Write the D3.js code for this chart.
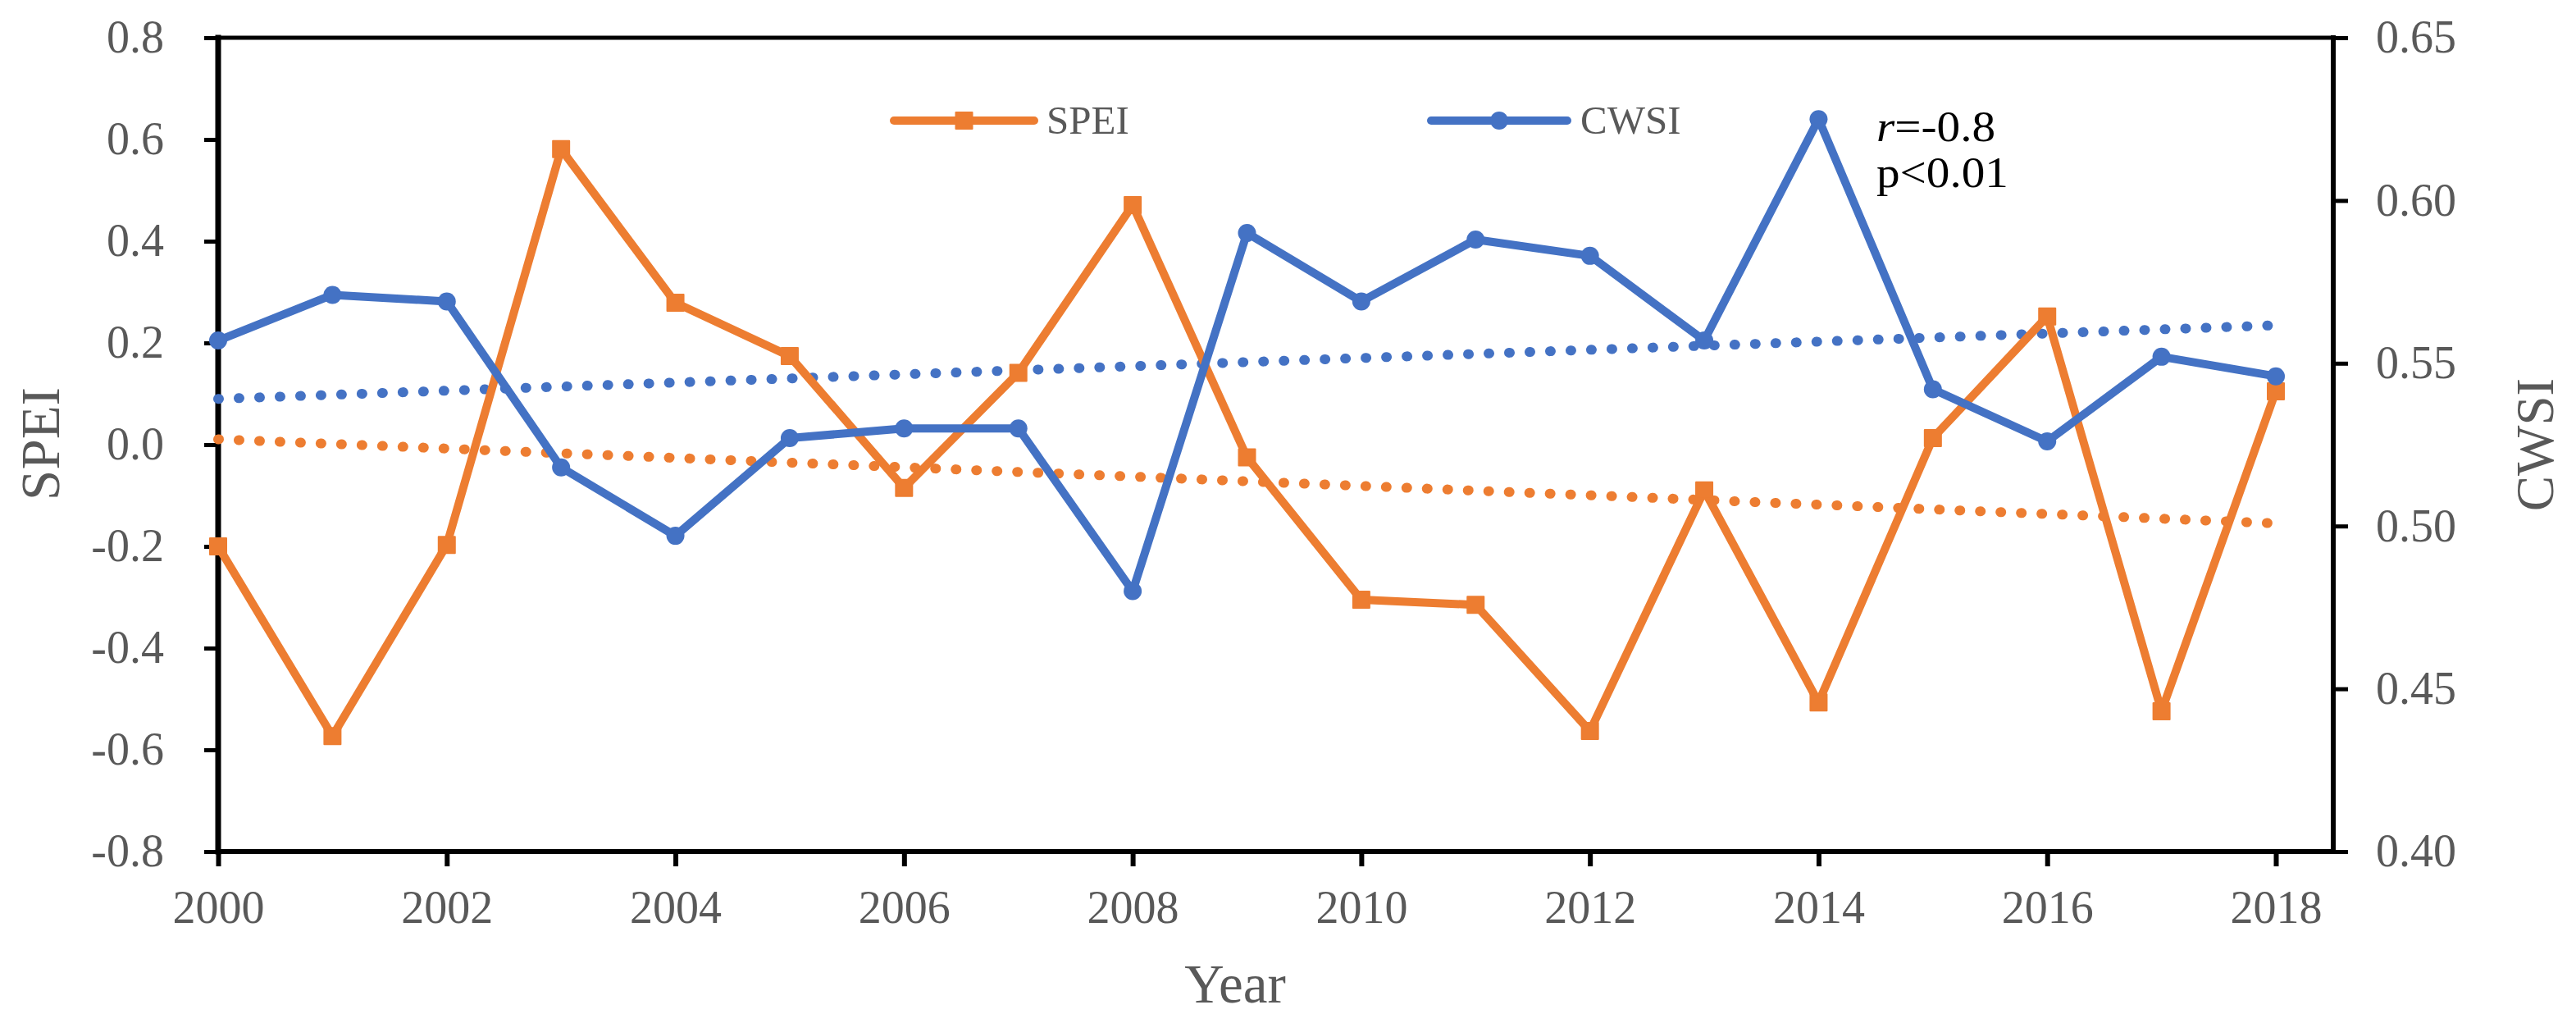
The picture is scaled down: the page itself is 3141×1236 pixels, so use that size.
<!DOCTYPE html>
<html>
<head>
<meta charset="utf-8">
<script src="https://cdn.jsdelivr.net/npm/d3@7"></script>
<style>
  html, body { margin: 0; padding: 0; background: #fff; }
  svg { display: block; }
</style>
</head>
<body>
<svg id="chart"></svg>
<script>
// data
const years = [2000, 2001, 2002, 2003, 2004, 2005, 2006, 2007, 2008, 2009,
               2010, 2011, 2012, 2013, 2014, 2015, 2016, 2017, 2018];
const speiValues = [-0.200, -0.573, -0.197, 0.581, 0.279, 0.174, -0.085, 0.141, 0.471, -0.025,
                    -0.305, -0.315, -0.563, -0.090, -0.507, 0.013, 0.252, -0.524, 0.105];
const cwsiValues = [0.557, 0.571, 0.569, 0.518, 0.497, 0.527, 0.530, 0.530, 0.480, 0.590,
                    0.569, 0.588, 0.583, 0.557, 0.625, 0.542, 0.526, 0.552, 0.546];

const xTicks = [2000, 2002, 2004, 2006, 2008, 2010, 2012, 2014, 2016, 2018];
const speiTicks = [-0.8, -0.6, -0.4, -0.2, 0.0, 0.2, 0.4, 0.6, 0.8];
const cwsiTicks = [0.40, 0.45, 0.50, 0.55, 0.60, 0.65];

const ORANGE = "#ED7D31", BLUE = "#4472C4", GREY = "#595959";
const FONT = "'Liberation Serif', 'Times New Roman', serif";

const W = 3141, H = 1236;
const frame = { left: 266, right: 2845, top: 46, bottom: 1038 };

const svg = d3.select("#chart").attr("width", W).attr("height", H).attr("viewBox", [0, 0, W, H]);

const x = d3.scaleLinear().domain([2000, 2018]).range([266, 2775]);
const yL = d3.scaleLinear().domain([-0.8, 0.8]).range([frame.bottom, frame.top]);
const yR = d3.scaleLinear().domain([0.40, 0.65]).range([frame.bottom, frame.top]);

// least squares trend (like Excel's linear trendline)
const fit = (vals) => {
    const n = vals.length;
    const mx = d3.mean(years), my = d3.mean(vals);
    let sxy = 0, sxx = 0;
    years.forEach((yr, i) => { sxy += (yr - mx) * (vals[i] - my); sxx += (yr - mx) * (yr - mx); });
    const b = sxy / sxx;
    return yr => my + b * (yr - mx);
};

// axes
const styleAxis = (g) => {
    g.attr("font-family", FONT).attr("font-size", 56);
    g.select(".domain").remove();
    g.selectAll(".tick line").attr("stroke", "#000").attr("stroke-width", 5);
    g.selectAll(".tick text").attr("fill", GREY);
};

svg.append("g")
    .attr("transform", `translate(0,${frame.bottom})`)
    .call(d3.axisBottom(x).tickValues(xTicks).tickFormat(d3.format("d"))
        .tickSizeInner(18).tickSizeOuter(0).tickPadding(29))
    .call(styleAxis)
    .call(g => g.selectAll(".tick line").attr("stroke-width", 6));

svg.append("g")
    .attr("transform", `translate(${frame.left},0)`)
    .call(d3.axisLeft(yL).tickValues(speiTicks).tickFormat(d => d.toFixed(1))
        .tickSizeInner(17).tickSizeOuter(0).tickPadding(49))
    .call(styleAxis);

svg.append("g")
    .attr("transform", `translate(${frame.right},0)`)
    .call(d3.axisRight(yR).tickValues(cwsiTicks).tickFormat(d => d.toFixed(2))
        .tickSizeInner(18).tickSizeOuter(0).tickPadding(34))
    .call(styleAxis);

// frame
const border = svg.append("g").attr("stroke", "#000").attr("stroke-linecap", "square");
border.append("line").attr("x1", frame.left).attr("x2", frame.right).attr("y1", frame.top).attr("y2", frame.top).attr("stroke-width", 5);
border.append("line").attr("x1", frame.left).attr("x2", frame.right).attr("y1", frame.bottom).attr("y2", frame.bottom).attr("stroke-width", 6);
border.append("line").attr("x1", frame.left).attr("x2", frame.left).attr("y1", frame.top).attr("y2", frame.bottom).attr("stroke-width", 7);
border.append("line").attr("x1", frame.right).attr("x2", frame.right).attr("y1", frame.top).attr("y2", frame.bottom).attr("stroke-width", 6);

// trendlines
const speiTrend = fit(speiValues), cwsiTrend = fit(cwsiValues);
const trendEnds = [2000, 2018];
svg.append("path")
    .attr("d", d3.line().x(d => x(d)).y(d => yL(speiTrend(d)))(trendEnds))
    .attr("fill", "none").attr("stroke", ORANGE).attr("stroke-width", 12)
    .attr("stroke-linecap", "round").attr("stroke-dasharray", "1 24");
svg.append("path")
    .attr("d", d3.line().x(d => x(d)).y(d => yR(cwsiTrend(d)))(trendEnds))
    .attr("fill", "none").attr("stroke", BLUE).attr("stroke-width", 12)
    .attr("stroke-linecap", "round").attr("stroke-dasharray", "1 24");

// SPEI series
svg.append("path")
    .attr("d", d3.line().x((d, i) => x(years[i])).y(d => yL(d))(speiValues))
    .attr("fill", "none").attr("stroke", ORANGE).attr("stroke-width", 10)
    .attr("stroke-linejoin", "round").attr("stroke-linecap", "round");
svg.append("g").selectAll("rect").data(speiValues).join("rect")
    .attr("x", (d, i) => x(years[i]) - 10).attr("y", d => yL(d) - 10)
    .attr("width", 20).attr("height", 20)
    .attr("fill", ORANGE).attr("stroke", ORANGE).attr("stroke-width", 2).attr("stroke-linejoin", "round");

// CWSI series
svg.append("path")
    .attr("d", d3.line().x((d, i) => x(years[i])).y(d => yR(d))(cwsiValues))
    .attr("fill", "none").attr("stroke", BLUE).attr("stroke-width", 10)
    .attr("stroke-linejoin", "round").attr("stroke-linecap", "round");
svg.append("g").selectAll("circle").data(cwsiValues).join("circle")
    .attr("cx", (d, i) => x(years[i])).attr("cy", d => yR(d)).attr("r", 11)
    .attr("fill", BLUE);

// legend
const legend = [
    { name: "SPEI", color: ORANGE, shape: "square", x1: 1090, x2: 1261, tx: 1276 },
    { name: "CWSI", color: BLUE, shape: "circle", x1: 1745, x2: 1911, tx: 1927 }
];
const ly = 147;
legend.forEach(l => {
    const g = svg.append("g");
    g.append("line").attr("x1", l.x1).attr("x2", l.x2).attr("y1", ly).attr("y2", ly)
        .attr("stroke", l.color).attr("stroke-width", 10).attr("stroke-linecap", "round");
    const mx = (l.x1 + l.x2) / 2;
    if (l.shape === "square") {
        g.append("rect").attr("x", mx - 10).attr("y", ly - 10).attr("width", 20).attr("height", 20)
            .attr("fill", l.color).attr("stroke", l.color).attr("stroke-width", 2).attr("stroke-linejoin", "round");
    } else {
        g.append("circle").attr("cx", mx).attr("cy", ly).attr("r", 11).attr("fill", l.color);
    }
    g.append("text").attr("x", l.tx).attr("y", 163).attr("font-family", FONT).attr("font-size", 49)
        .attr("fill", GREY).text(l.name);
});

// correlation note
const note = svg.append("g").attr("transform", "translate(2288,0) scale(1.1,1)")
    .attr("font-family", FONT).attr("font-size", 52).attr("fill", "#000");
const r1 = note.append("text").attr("x", 0).attr("y", 172);
r1.append("tspan").attr("font-style", "italic").text("r");
r1.append("tspan").text("=-0.8");
note.append("text").attr("x", 0).attr("y", 228).text("p<0.01");

// axis titles
svg.append("text").attr("x", 1506).attr("y", 1222).attr("text-anchor", "middle")
    .attr("font-family", FONT).attr("font-size", 67).attr("fill", GREY).text("Year");
svg.append("text").attr("transform", "translate(72,541) rotate(-90)").attr("text-anchor", "middle")
    .attr("font-family", FONT).attr("font-size", 67).attr("fill", GREY).text("SPEI");
svg.append("text").attr("transform", "translate(3113,542) rotate(-90)").attr("text-anchor", "middle")
    .attr("font-family", FONT).attr("font-size", 65).attr("fill", GREY).text("CWSI");
</script>
</body>
</html>
